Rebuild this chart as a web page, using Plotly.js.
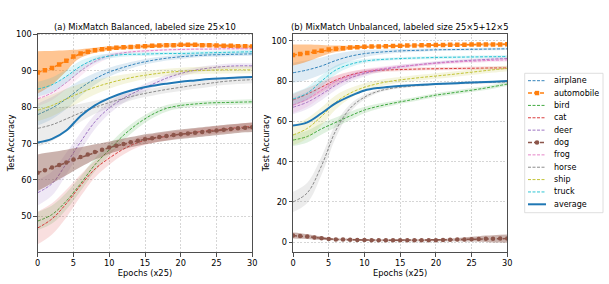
<!DOCTYPE html>
<html><head><meta charset="utf-8">
<script src="https://cdn.plot.ly/plotly-3.0.1.min.js"></script>
<style>html,body{margin:0;padding:0;background:#fff}#chart{width:609px;height:284px}</style>
</head><body><div id="chart"></div>
<script>
// ---------- DATA ----------
const CLASSES = ['airplane','automobile','bird','cat','deer','dog','frog','horse','ship','truck','average'];
const EPOCHS_ALL = [0,1,2,3,4,5,6,7,8,9,10,11,12,13,14,15,16,17,18,19,20,21,22,23,24,25,26,27,28,29,30];
const EPOCHS = [0,2,4,6,8,10,12,14,16,18,20,22,24,26,28,30];
const X_TICKS = [0,5,10,15,20,25,30];
const Y_TICKS_A = [50,60,70,80,90,100];
const Y_TICKS_B = [0,20,40,60,80,100];
const TITLE_A = '(a) MixMatch Balanced, labeled size 25×10';
const TITLE_B = '(b) MixMatch Unbalanced, labeled size 25×5+12×5';

// Panel (a): mean and std per class
const a_airplane = [78,79.8,82.3,85.3,87.8,89.7,91,92.1,92.9,93.5,93.9,94.2,94.4,94.5,94.6,94.7];
const a_airplane_sd = [3,3,2.8,2.2,1.6,1.2,1,0.8,0.7,0.6,0.6,0.5,0.5,0.5,0.5,0.5];
const a_automobile = [89.6,90.2,90.8,91.8,92.8,94,94.8,95.3,95.7,96,96.2,96.4,96.5,96.6,96.7,96.8,96.9,97,97.1,97.1,97.2,97.2,97.2,97.1,97.1,97,96.9,96.9,96.8,96.8,96.7];
const a_automobile_sd = [5.8,5.3,4.7,3.8,2.9,1.8,1.2,0.9,0.7,0.6,0.6,0.5,0.5,0.5,0.5,0.5,0.5,0.5,0.5,0.5,0.5,0.5,0.5,0.5,0.5,0.5,0.5,0.5,0.5,0.5,0.5];
const a_bird = [48.7,50.5,54.2,59,64.2,68.3,72.3,75.5,78,79.7,80.5,80.9,81.2,81.3,81.4,81.5];
const a_bird_sd = [2.5,2.5,2.3,2,1.8,1.6,1.4,1.2,1,0.9,0.8,0.7,0.7,0.7,0.7,0.7];
const a_cat = [46.8,49.3,53.5,58.5,63,66,68.5,70.3,71.3,72,72.6,73.1,73.6,74,74.4,74.8];
const a_cat_sd = [4.5,4.3,3.8,3,2.3,1.8,1.5,1.3,1.2,1.1,1,1,1,1,1,1];
const a_deer = [56.5,59,64.5,70.5,76,79.8,82.5,84.5,86.3,88,89.3,90.2,90.8,91.2,91.4,91.4];
const a_deer_sd = [3.5,3.3,3,2.5,2,1.6,1.3,1.1,1,0.9,0.8,0.7,0.7,0.7,0.7,0.7];
const a_dog = [62,62.7,63.4,64.1,64.8,65.6,66.3,67,67.7,68.3,68.9,69.4,69.9,70.4,70.8,71.2,71.5,71.8,72.1,72.4,72.6,72.8,73,73.2,73.4,73.6,73.8,74,74.2,74.4,74.5];
const a_dog_sd = [5,4.7,4.3,3.9,3.5,3.1,2.7,2.4,2.1,1.9,1.7,1.6,1.5,1.4,1.4,1.4,1.3,1.3,1.3,1.3,1.3,1.3,1.3,1.3,1.3,1.3,1.3,1.3,1.3,1.3,1.3];
const a_frog = [82.3,84,86.8,90,92.6,94.2,95,95.4,95.6,95.8,95.9,96,96,96.1,96.1,96.1];
const a_frog_sd = [2,2,1.8,1.4,1,0.7,0.5,0.4,0.4,0.4,0.4,0.4,0.4,0.4,0.4,0.4];
const a_horse = [74.2,75.2,76.8,78.5,80,81.3,82.4,83.4,84.2,84.9,85.5,86.1,86.6,87.1,87.4,87.6];
const a_horse_sd = [5,4.5,3.5,2.5,1.8,1.4,1.2,1,1,1,1,1,1,1,1,1];
const a_ship = [79.2,80.5,82.3,84,85.5,86.7,87.7,88.5,89.1,89.6,89.9,90.1,90.2,90.3,90.3,90.3];
const a_ship_sd = [3,3,2.8,2.5,2,1.6,1.3,1.1,1,1,1,1,1,1,1,1];
const a_truck = [85,86.2,88.5,91.3,93.2,94.1,94.5,94.6,94.7,94.8,94.8,94.9,95,95.1,95.2,95.3];
const a_truck_sd = [2,2,1.8,1.5,1,0.7,0.6,0.5,0.5,0.5,0.5,0.5,0.5,0.5,0.5,0.5];
const a_average = [70.3,71.3,73.6,77.6,80.5,82.5,84,85.1,85.9,86.5,87,87.4,87.8,88,88.2,88.3];

// Panel (b)
const b_airplane = [84.1,85.5,87.5,90.2,92.3,93.6,94.3,94.8,95.1,95.3,95.5,95.6,95.7,95.8,95.9,96];
const b_airplane_sd = [5,4.8,4.2,3.3,2.5,1.8,1.3,1,0.8,0.7,0.6,0.6,0.6,0.6,0.6,0.6];
const b_automobile = [92.9,93.4,93.9,94.5,95.1,95.6,96,96.3,96.6,96.8,97,97.1,97.2,97.3,97.4,97.5,97.6,97.7,97.8,97.8,97.9,97.9,98,98,98,98.1,98.1,98.2,98.2,98.2,98.3];
const b_automobile_sd = [5.2,4.8,4.2,3.5,2.8,2.1,1.6,1.2,0.9,0.8,0.7,0.6,0.6,0.5,0.5,0.5,0.5,0.5,0.5,0.5,0.5,0.5,0.5,0.5,0.5,0.5,0.5,0.5,0.5,0.5,0.5];
const b_bird = [50.7,52.5,56.3,59.5,62.7,65.6,67.5,69,70.3,71.7,73,74,75,76,77.2,78.5];
const b_bird_sd = [3,3,2.8,2.4,2,1.6,1.3,1.1,1,1,1,1,1,1,1,1];
const b_cat = [70.6,73.5,77,80.5,83,84.6,85.3,85.6,85.8,86,86.1,86.2,86.3,86.4,86.5,86.5];
const b_cat_sd = [3,3,2.7,2.2,1.7,1.3,1,0.9,0.8,0.8,0.8,0.8,0.8,0.8,0.8,0.8];
const b_deer = [67,69.5,73.5,78,81.5,83.8,85.4,86.6,87.5,88.3,89,89.6,90.1,90.5,90.9,91.2];
const b_deer_sd = [3.5,3.4,3,2.5,2,1.5,1.2,1,0.9,0.8,0.8,0.8,0.8,0.8,0.8,0.8];
const b_dog = [3.3,3.1,2.8,2.4,2,1.6,1.4,1.3,1.2,1.1,1.1,1,1,1,1,1,1,1,1,1,1,1.1,1.2,1.3,1.4,1.5,1.6,1.7,1.7,1.8,1.8];
const b_dog_sd = [1.5,1.4,1.2,1,0.8,0.6,0.5,0.5,0.5,0.5,0.5,0.5,0.5,0.5,0.5,0.5,0.5,0.5,0.5,0.5,0.5,0.6,0.7,0.8,1,1.2,1.4,1.6,1.8,1.9,2];
const b_frog = [68.1,71,75.5,79.8,82.5,84.6,85.9,86.8,87.5,88.2,88.8,89.3,89.7,90,90.3,90.5];
const b_frog_sd = [4,3.8,3.3,2.7,2,1.5,1.2,1,0.9,0.9,0.9,0.9,0.9,0.9,0.9,0.9];
const b_horse = [20,24.5,38,55.5,66.5,72,75,76.5,77.3,77.9,78.5,78.8,79,79.2,79.4,79.5];
const b_horse_sd = [5,5,4.5,3.5,2,1.2,0.8,0.6,0.6,0.6,0.6,0.6,0.6,0.6,0.6,0.6];
const b_ship = [53.2,56.5,62.5,69.5,74,76.9,78.8,80.1,81,81.8,82.5,83.2,84,84.8,85.6,86.3];
const b_ship_sd = [5,5,4.5,3.5,2.5,2,1.7,1.5,1.4,1.4,1.4,1.4,1.4,1.4,1.4,1.4];
const b_truck = [71.1,74,80,85.5,88.3,89.9,90.6,91,91.3,91.5,91.7,91.8,91.9,92,92.1,92.2];
const b_truck_sd = [3,3,2.8,2.2,1.5,1,0.8,0.7,0.7,0.7,0.7,0.7,0.7,0.7,0.7,0.7];
const b_average = [57.9,59.5,64,69,72.5,75.3,76.6,77.3,77.8,78.2,78.5,78.8,79.1,79.4,79.7,80];

// ---------- STYLE ----------
const COLORS = {airplane:'#1f77b4',automobile:'#ff7f0e',bird:'#2ca02c',cat:'#d62728',deer:'#9467bd',
  dog:'#8c564b',frog:'#e377c2',horse:'#7f7f7f',ship:'#bcbd22',truck:'#17becf',average:'#1f77b4'};
const FONT = 'DejaVu Sans, sans-serif';
function rgba(hex,a){const n=parseInt(hex.slice(1),16);return `rgba(${n>>16},${(n>>8)&255},${n&255},${a})`;}

const PANELS = [
  {xa:'x', ya:'y', d:{airplane:[a_airplane,a_airplane_sd],automobile:[a_automobile,a_automobile_sd],bird:[a_bird,a_bird_sd],cat:[a_cat,a_cat_sd],deer:[a_deer,a_deer_sd],dog:[a_dog,a_dog_sd],frog:[a_frog,a_frog_sd],horse:[a_horse,a_horse_sd],ship:[a_ship,a_ship_sd],truck:[a_truck,a_truck_sd],average:[a_average,null]}},
  {xa:'x2', ya:'y2', d:{airplane:[b_airplane,b_airplane_sd],automobile:[b_automobile,b_automobile_sd],bird:[b_bird,b_bird_sd],cat:[b_cat,b_cat_sd],deer:[b_deer,b_deer_sd],dog:[b_dog,b_dog_sd],frog:[b_frog,b_frog_sd],horse:[b_horse,b_horse_sd],ship:[b_ship,b_ship_sd],truck:[b_truck,b_truck_sd],average:[b_average,null]}}
];

const traces = [];
PANELS.forEach(p => {
  CLASSES.forEach(c => {
    const [m, sd] = p.d[c];
    const marked = (c === 'automobile' || c === 'dog');
    const x = marked ? EPOCHS_ALL : EPOCHS;
    const col = COLORS[c];
    if (sd) {
      const alpha = marked ? 0.45 : 0.15;
      traces.push({x, y: m.map((v,i)=>v-sd[i]), xaxis:p.xa, yaxis:p.ya, mode:'lines',
        line:{width:0, shape:'spline'}, hoverinfo:'skip', showlegend:false});
      traces.push({x, y: m.map((v,i)=>v+sd[i]), xaxis:p.xa, yaxis:p.ya, mode:'lines', fill:'tonexty',
        fillcolor: rgba(col, alpha), line:{width:0, shape:'spline'}, hoverinfo:'skip', showlegend:false});
    }
    const t = {x, y:m, xaxis:p.xa, yaxis:p.ya, name:c, showlegend:false, mode:'lines',
      line:{color:col, width:0.9, dash:'3px,1.5px', shape:'spline'}};
    if (c === 'average') t.line = {color:col, width:2, shape:'spline'};
    if (c === 'automobile') { t.mode='lines+markers'; t.line={color:col,width:1.5,dash:'4px,2px'}; t.marker={symbol:'square',size:4.5,color:col}; }
    if (c === 'dog') { t.mode='lines+markers'; t.line={color:col,width:1.5,dash:'4px,2px'}; t.marker={symbol:'circle',size:4.5,color:col}; }
    traces.push(t);
  });
});

// ---------- LAYOUT ----------
const W=609, H=284;
const px = v => v/W, py = v => 1 - v/H;
const axisBase = {showline:true, mirror:true, linecolor:'#222', linewidth:0.8, ticks:'outside', ticklen:3.5,
  tickwidth:0.8, tickcolor:'#222', showgrid:true, gridcolor:'#c4c4c4', gridwidth:0.7, griddash:'2px,1.5px',
  zeroline:false, tickfont:{family:FONT,size:8.2,color:'#000'}};
const layout = {
  width:W, height:H, margin:{l:0,r:0,t:0,b:0}, paper_bgcolor:'#fff', plot_bgcolor:'#fff', showlegend:false,
  font:{family:FONT,size:8,color:'#000'},
  xaxis:Object.assign({}, axisBase, {domain:[px(37.7),px(252.3)], anchor:'y', range:[0,30], tickvals:X_TICKS,
    title:{text:'Epochs (x25)', font:{family:FONT,size:8.3}, standoff:1}}),
  yaxis:Object.assign({}, axisBase, {domain:[py(252.3),py(33.5)], anchor:'x', range:[40.1,100.3], tickvals:Y_TICKS_A,
    title:{text:'Test Accuracy', font:{family:FONT,size:8.3}, standoff:0}}),
  xaxis2:Object.assign({}, axisBase, {domain:[px(293),px(507.3)], anchor:'y2', range:[0,30], tickvals:X_TICKS,
    title:{text:'Epochs (x25)', font:{family:FONT,size:8.3}, standoff:1}}),
  yaxis2:Object.assign({}, axisBase, {domain:[py(252.3),py(33.5)], anchor:'x2', range:[-5,103.6], tickvals:Y_TICKS_B,
    title:{text:'Test Accuracy', font:{family:FONT,size:8.3}, standoff:0}}),
  annotations:[
    {text:TITLE_A, xref:'paper', yref:'paper', x:px((37.7+252.3)/2), y:py(26.7), xanchor:'center', yanchor:'middle', showarrow:false, font:{family:FONT,size:8.4}},
    {text:TITLE_B, xref:'paper', yref:'paper', x:px((293+507.3)/2), y:py(26.7), xanchor:'center', yanchor:'middle', showarrow:false, font:{family:FONT,size:8.4}}
  ],
  shapes:[
    {type:'rect', xref:'paper', yref:'paper', x0:px(524.7), x1:px(603), y0:py(212.7), y1:py(73.3), line:{color:'#d6d6d6',width:0.8}, fillcolor:'#fff', layer:'above'}
  ]
};
// custom legend
CLASSES.forEach((c,i) => {
  const yc = 80.7 + i*12.36, col = COLORS[c];
  let line = {color:col, width:0.9, dash:'3px,1.5px'};
  if (c==='average') line = {color:col, width:2};
  if (c==='automobile' || c==='dog') line = {color:col, width:1.5, dash:'4px,2px'};
  layout.shapes.push({type:'line', xref:'paper', yref:'paper', x0:px(528), x1:px(546), y0:py(yc), y1:py(yc), line, layer:'above'});
  if (c==='automobile') layout.shapes.push({type:'rect', xref:'paper', yref:'paper', xsizemode:'pixel', ysizemode:'pixel', xanchor:px(537), yanchor:py(yc), x0:-2.2, x1:2.2, y0:-2.2, y1:2.2, fillcolor:col, line:{width:0}, layer:'above'});
  if (c==='dog') layout.shapes.push({type:'circle', xref:'paper', yref:'paper', xsizemode:'pixel', ysizemode:'pixel', xanchor:px(537), yanchor:py(yc), x0:-2.3, x1:2.3, y0:-2.3, y1:2.3, fillcolor:col, line:{width:0}, layer:'above'});
  layout.annotations.push({text:c, xref:'paper', yref:'paper', x:px(552), y:py(yc), xanchor:'left', yanchor:'middle', showarrow:false, font:{family:FONT,size:8,color:'#000'}});
});

Plotly.newPlot('chart', traces, layout, {staticPlot:true, displayModeBar:false});
</script>
</body></html>
